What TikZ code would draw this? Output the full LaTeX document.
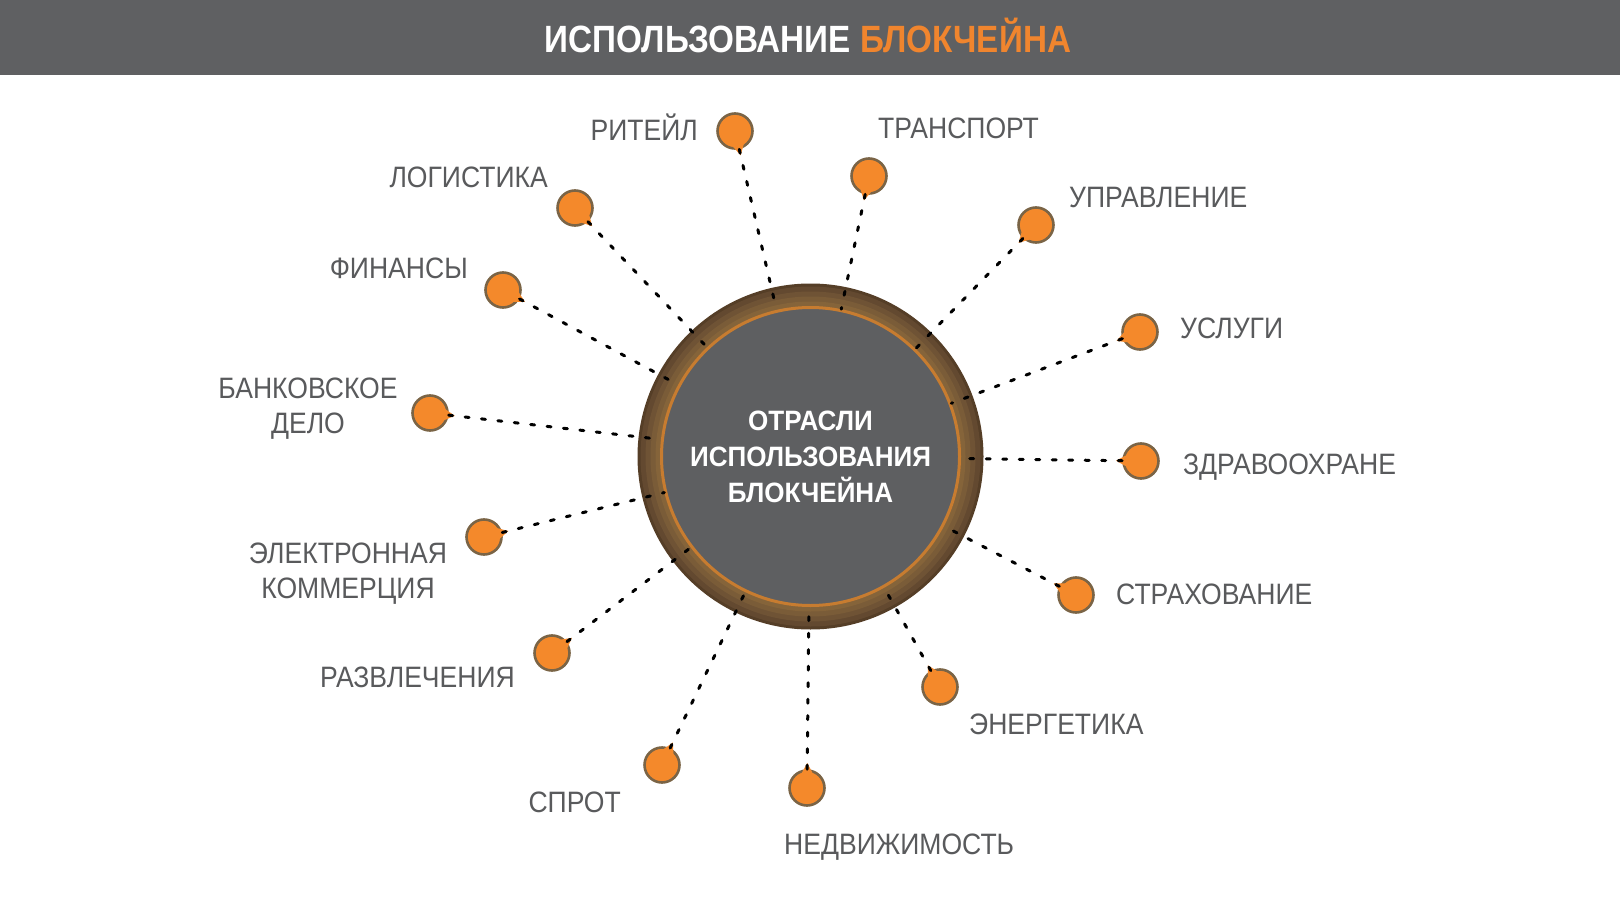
\documentclass[tikz,border=0pt]{standalone}
\usepackage{fontspec}
\setmainfont{Liberation Sans}[FakeStretch=0.9]
\newfontfamily\hubfont{Liberation Sans}[FakeStretch=0.93]
\newfontfamily\titlefont{Liberation Sans}[FakeStretch=0.875]
\usetikzlibrary{calc}
\definecolor{barcol}{HTML}{5F6062}
\definecolor{hubgray}{HTML}{5E5F61}
\definecolor{orng}{HTML}{F4892B}
\definecolor{titleorng}{HTML}{F0852E}
\definecolor{labgray}{HTML}{595A5C}
\definecolor{dotrim}{HTML}{7A6446}
\definecolor{ringa}{HTML}{553E27}
\definecolor{ringb}{HTML}{634930}
\definecolor{ringc}{HTML}{6F5335}
\definecolor{ringd}{HTML}{7A5C38}
\definecolor{ringe}{HTML}{85643A}
\definecolor{ringorange}{HTML}{C77C30}
\tikzset{
  dotnode/.style={circle, fill=orng, draw=dotrim, line width=2.6pt, minimum size=35pt, inner sep=0pt},
  conn/.style={draw=black, line width=3pt, line cap=round, dash pattern=on 4pt off 12.5pt},
  lab/.style={text=labgray, font=\fontsize{29.5}{35}\selectfont, inner sep=0pt},
  hubnode/.style={circle, minimum size=298pt, inner sep=0pt, fill=hubgray, draw=ringorange, line width=3pt,
    text=white, align=center, font=\hubfont\bfseries\fontsize{28}{36}\selectfont},
}
\begin{document}
\begin{tikzpicture}[x=1pt,y=-1pt]
\useasboundingbox (0,0) rectangle (1620,912);
\fill[white] (0,0) rectangle (1620,912);
\fill[barcol] (0,0) rectangle (1620,75);
\node[anchor=base, text=white, inner sep=0pt, font=\titlefont\bfseries\fontsize{38}{40}\selectfont] (title) at (808,53)
  {ИСПОЛЬЗОВАНИЕ \textcolor{titleorng}{БЛОКЧЕЙНА}};

% ring
\coordinate (c) at (810.5,456.5);
\fill[ringa] (c) circle (173);
\fill[ringb] (c) circle (170);
\fill[ringc] (c) circle (165);
\fill[ringd] (c) circle (160);
\fill[ringe] (c) circle (155);
\node[hubnode] (hub) at (c) {ОТРАСЛИ\\ИСПОЛЬЗОВАНИЯ\\БЛОКЧЕЙНА};

% dots
\foreach \nm/\px/\py in {ritail/735/131, transp/869/176, upr/1036/225, usl/1140/332, zdrav/1141/461,
  strah/1076/595, energ/940/687, nedv/807/788, sport/662/765, razvl/552/653, ecom/484/537,
  bank/430/413, fin/503/290, logist/575/208}{
  \node[dotnode] (\nm) at (\px,\py) {};
  \fill[orng] let \p1=($(c)-(\nm.center)$), \n1={atan2(\y1,\x1)} in
    ($(\nm.center)+(\n1+30:14pt)$) -- ($(\nm.center)+(\n1:25pt)$) -- ($(\nm.center)+(\n1-30:14pt)$) -- cycle;
  \draw[conn] (\nm) -- (hub);
}

% labels
\node[lab, anchor=base east] (lritail) at (698,141) {РИТЕЙЛ};
\node[lab, anchor=base west] (ltransp) at (878,139) {ТРАНСПОРТ};
\node[lab, anchor=base west] (lupr) at (1069,208) {УПРАВЛЕНИЕ};
\node[lab, anchor=base west] (lusl) at (1180,338) {УСЛУГИ};
\node[lab, anchor=base west] (lzdrav) at (1183,474) {ЗДРАВООХРАНЕ};
\node[lab, anchor=base west] (lstrah) at (1116,604) {СТРАХОВАНИЕ};
\node[lab, anchor=base west] (lenerg) at (969,734) {ЭНЕРГЕТИКА};
\node[lab, anchor=base west] (lnedv) at (784,854) {НЕДВИЖИМОСТЬ};
\node[lab, anchor=base east] (lsport) at (621,812) {СПРОТ};
\node[lab, anchor=base east] (lrazvl) at (515,687) {РАЗВЛЕЧЕНИЯ};
\node[lab, align=center] (lecom) at (348,574) {ЭЛЕКТРОННАЯ\\КОММЕРЦИЯ};
\node[lab, align=center] (lbank) at (308,409) {БАНКОВСКОЕ\\ДЕЛО};
\node[lab, anchor=base east] (lfin) at (468,279) {ФИНАНСЫ};
\node[lab, anchor=base east] (llogist) at (548,188) {ЛОГИСТИКА};
\end{tikzpicture}
\end{document}
